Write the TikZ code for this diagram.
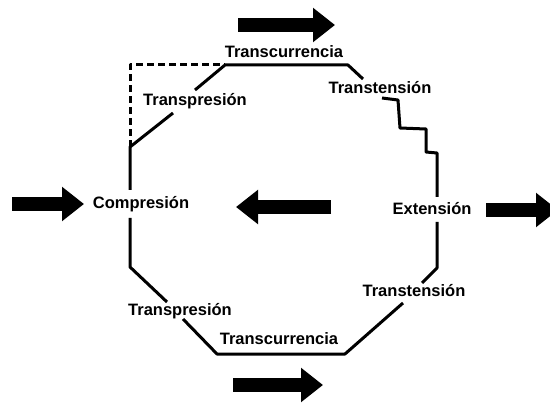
\documentclass[tikz,border=0pt]{standalone}
\usepackage{fontspec}
\setmainfont{Liberation Sans}
\usepackage{tikz}
\usetikzlibrary{arrows.meta}

\tikzset{
  edge/.style={line width=3pt,line join=round},
  lbl/.style={inner sep=0pt},
  force/.style={line width=14pt,-{Triangle[length=22pt,width=33pt]}}
}

\begin{document}
\begin{tikzpicture}[x=1pt,y=-1pt,font=\bfseries\fontsize{16.5}{19}\selectfont]
\clip (0,0) rectangle (550,404);
% labels
\node[lbl] (trcT) at (284,52) {Transcurrencia};
\node[lbl] (trpT) at (195,101) {Transpresión};
\node[lbl] (trtT) at (380,88) {Transtensión};
\node[lbl] (comp) at (141,204) {Compresión};
\node[lbl] (ext) at (432,209) {Extensión};
\node[lbl] (trtB) at (414,291) {Transtensión};
\node[lbl] (trpB) at (180,311) {Transpresión};
\node[lbl] (trcB) at (279,339) {Transcurrencia};
% octagon corners
\coordinate (tl) at (130,65); \coordinate (t1) at (225,65); \coordinate (t2) at (348,65);
\coordinate (t3) at (363,79); \coordinate (p1) at (195,90); \coordinate (p2) at (173,113);
\coordinate (l1) at (130,147); \coordinate (l2) at (130,190); \coordinate (l3) at (130,218);
\coordinate (l4) at (130,267); \coordinate (q1) at (167,302); \coordinate (q2) at (183,319);
\coordinate (b1) at (217,354); \coordinate (b2) at (345,354); \coordinate (r1) at (403,303);
\coordinate (r2) at (422,283); \coordinate (r3) at (437,268); \coordinate (r4) at (437,222);
\coordinate (s1) at (382,98); \coordinate (s2) at (398,100); \coordinate (s3) at (400,128);
\coordinate (s4) at (426,129); \coordinate (s5) at (426,152); \coordinate (s6) at (437,153);
\coordinate (s7) at (437,197);
\draw[edge,dash pattern=on 7pt off 4pt] (l1) -- (tl) -- (t1);
\draw[edge] (t3) -- (t2) -- (t1) -- (p1);
\draw[edge] (p2) -- (l1) -- (l2);
\draw[edge] (s1) -- (s2) -- (s3) -- (s4) -- (s5) -- (s6) -- (s7);
\draw[edge] (r4) -- (r3) -- (r2);
\draw[edge] (r1) -- (b2) -- (b1) -- (q2);
\draw[edge] (q1) -- (l4) -- (l3);
% forces
\coordinate (fT0) at (238,25); \coordinate (fT1) at (335,25);
\coordinate (fB0) at (233,385); \coordinate (fB1) at (323,385);
\coordinate (fL0) at (12,204); \coordinate (fL1) at (84,204);
\coordinate (fM0) at (331,207); \coordinate (fM1) at (236,207);
\coordinate (fR0) at (486,210); \coordinate (fR1) at (558,210);
\draw[force] (fT0) -- (fT1);
\draw[force] (fB0) -- (fB1);
\draw[force] (fL0) -- (fL1);
\draw[force] (fM0) -- (fM1);
\draw[force] (fR0) -- (fR1);
\end{tikzpicture}
\end{document}
